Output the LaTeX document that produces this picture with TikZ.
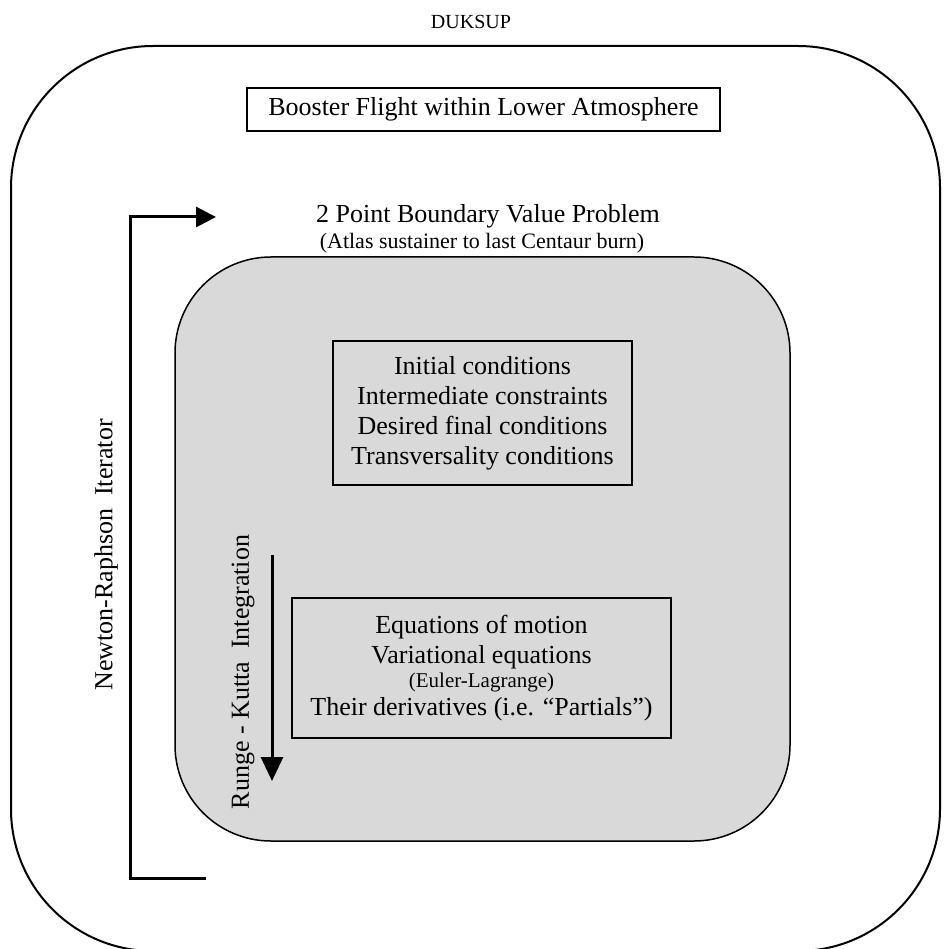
\documentclass[tikz,border=0pt]{standalone}
\usepackage{fontspec}
\setmainfont{Liberation Serif}
\usetikzlibrary{arrows.meta}
\begin{document}
\begin{tikzpicture}[x=1pt,y=-1pt,
            every node/.style={align=center,font=\fontsize{26}{30}\selectfont},
            frame/.style={draw, line width=2pt, rounded corners=142pt},
            inner frame/.style={draw, line width=1.5pt, fill=gray!30, rounded corners=96pt},
            text box/.style={rectangle, draw, line width=1.2pt, inner sep=0pt},
            small text/.style={font=\fontsize{22}{26}\selectfont},
            loop arrow/.style={line width=3pt, -{Triangle[length=20pt,width=20pt]}},
            loop line/.style={line width=3pt}
    ]
        \useasboundingbox (0,0) rectangle (943,949);

        % Frames
        \node[font=\fontsize{20}{24}\selectfont] (title) at (471,22) {DUKSUP};
        \draw[frame] (11,46) rectangle (940,951);
        \draw[inner frame] (175,257) rectangle (790,841);

        % Lower atmosphere
        \node[text box, minimum width=473pt, minimum height=43pt] (booster) at (483.5,109.5) {Booster Flight within Lower Atmosphere};

        % Boundary value problem
        \node (tpbvp) at (488,216) {2 Point Boundary Value Problem};
        \node[small text] (tpbvp_sub) at (482,243) {(Atlas sustainer to last Centaur burn)};

        \node[text box, minimum width=299pt, minimum height=144pt] (conds) at (482.5,413)
            {Initial conditions\\ Intermediate  constraints\\ Desired final conditions\\ Transversality  conditions};
        \node[text box, minimum width=379pt, minimum height=140pt] (eqns) at (481.5,668)
            {Equations  of motion\\ Variational  equations\\[-6pt] {\fontsize{21}{24}\selectfont (Euler-Lagrange)}\\[-2pt] Their derivatives  (i.e. “Partials”)};

        % Newton-Raphson loop
        \coordinate (nr_end) at (216,217);
        \coordinate (nr_top) at (130,217);
        \coordinate (nr_bot) at (130,878);
        \coordinate (nr_start) at (206,878);
        \draw[loop line] (nr_start) -- (nr_bot) -- (nr_top);
        \draw[loop arrow] ([xshift=-1.5pt]nr_top) -- (nr_end);
        \node[rotate=90] (nr_lbl) at (106,555) {Newton-Raphson\ \ Iterator};

        % Runge-Kutta
        \coordinate (rk_start) at (272,555);
        \coordinate (rk_end) at (272,781);
        \draw[line width=3pt, -{Triangle[length=24pt,width=22pt]}] (rk_start) -- (rk_end);
        \node[rotate=90] (rk_lbl) at (243,672) {Runge - Kutta\ \ Integration};

    \end{tikzpicture}
\end{document}
